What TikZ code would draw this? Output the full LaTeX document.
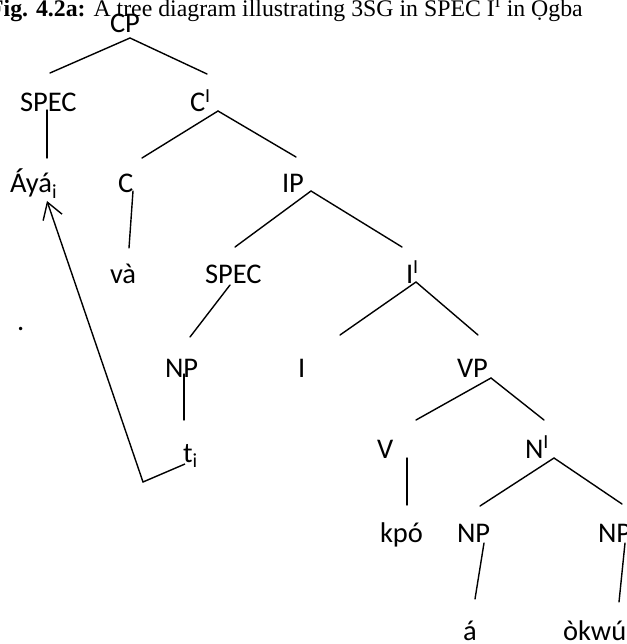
\documentclass[tikz,border=0pt]{standalone}
\usepackage{fontspec}
\setmainfont{Carlito}
\newfontfamily\capfont{Liberation Serif}
\usetikzlibrary{arrows.meta}
\tikzset{
  lbl/.style={anchor=base west, inner sep=0pt, outer sep=0pt, font=\fontsize{28.5}{30}\selectfont},
  br/.style={line width=1.4pt, line cap=round},
}
\begin{document}
\begin{tikzpicture}[x=1pt,y=-1pt]
\useasboundingbox (0,0) rectangle (626,644);
\clip (0,0) rectangle (626,644);
% caption
\node[anchor=base east, inner sep=0pt, font=\capfont\fontsize{23.8}{26}\selectfont] (cap) at (583,17)
  {\textbf{Fig. 4.2a:} A tree diagram illustrating 3SG in SPEC I\textsuperscript{I} in Ọgba};
% labels
\node[lbl] (cp) at (110,33) {CP};
\node[lbl] (spec1) at (20,112) {SPEC};
\node[lbl] (cbar) at (190,112) {C\textsuperscript{I}};
\node[lbl] (aya) at (10,193) {Áyá\textsubscript{i}};
\node[lbl] (c) at (118,193) {C};
\node[lbl] (ip) at (282,193) {IP};
\node[lbl] (va) at (110,283) {và};
\node[lbl] (spec2) at (205,283) {SPEC};
\node[lbl] (ibar) at (406,283) {I\textsuperscript{I}};
\node[lbl] (dot) at (17,330) {.};
\node[lbl] (np1) at (165,377) {NP};
\node[lbl] (i) at (298,377) {I};
\node[lbl] (vp) at (457,377) {VP};
\node[lbl] (ti) at (183,462) {t\textsubscript{i}};
\node[lbl] (v) at (377,458) {V};
\node[lbl] (nbar) at (525,458) {N\textsuperscript{I}};
\node[lbl] (kpo) at (380,542) {kpó};
\node[lbl] (np2) at (457,542) {NP};
\node[lbl] (np3) at (598,542) {NP};
\node[lbl] (a) at (463,640) {á};
\node[lbl] (okwu) at (563,640) {òkwú};
% branch end points
\coordinate (cpA) at (130,38);
\coordinate (cpL) at (50,73);
\coordinate (cpR) at (207,74);
\coordinate (s1T) at (47,110);
\coordinate (s1B) at (47,158);
\coordinate (cbA) at (218,111);
\coordinate (cbL) at (142,158);
\coordinate (cbR) at (296,157);
\coordinate (cT) at (133,191);
\coordinate (cB) at (129,248);
\coordinate (ipA) at (311,191);
\coordinate (ipL) at (235,247);
\coordinate (ipR) at (402,247);
\coordinate (ibA) at (416,282);
\coordinate (ibL) at (340,335);
\coordinate (ibR) at (478,335);
\coordinate (s2T) at (230,285);
\coordinate (s2B) at (190,337);
\coordinate (npT) at (184,374);
\coordinate (npB) at (184,420);
\coordinate (vpA) at (491,378);
\coordinate (vpL) at (416,420);
\coordinate (vpR) at (544,420);
\coordinate (vT) at (407,458);
\coordinate (vB) at (407,505);
\coordinate (nbA) at (554,458);
\coordinate (nbL) at (480,506);
\coordinate (nbR) at (622,504);
\coordinate (n2T) at (484,543);
\coordinate (n2B) at (475,599);
\coordinate (n3T) at (625,543);
\coordinate (n3B) at (619,602);
\coordinate (trS) at (185,464);
\coordinate (trC) at (143,482);
\coordinate (trE) at (47,201);
% branches
\draw[br] (cpL) -- (cpA) -- (cpR);
\draw[br] (s1T) -- (s1B);
\draw[br] (cbL) -- (cbA) -- (cbR);
\draw[br] (cT) -- (cB);
\draw[br] (ipL) -- (ipA) -- (ipR);
\draw[br] (ibL) -- (ibA) -- (ibR);
\draw[br] (s2T) -- (s2B);
\draw[br] (npT) -- (npB);
\draw[br] (vpL) -- (vpA) -- (vpR);
\draw[br] (vT) -- (vB);
\draw[br] (nbL) -- (nbA) -- (nbR);
\draw[br] (n2T) -- (n2B);
\draw[br] (n3T) -- (n3B);
% movement arrow
\draw[line width=1.4pt, line join=miter, -{Straight Barb[length=16pt,width=20pt,line width=1.4pt]}] (trS) -- (trC) -- (trE);
\end{tikzpicture}
\end{document}
